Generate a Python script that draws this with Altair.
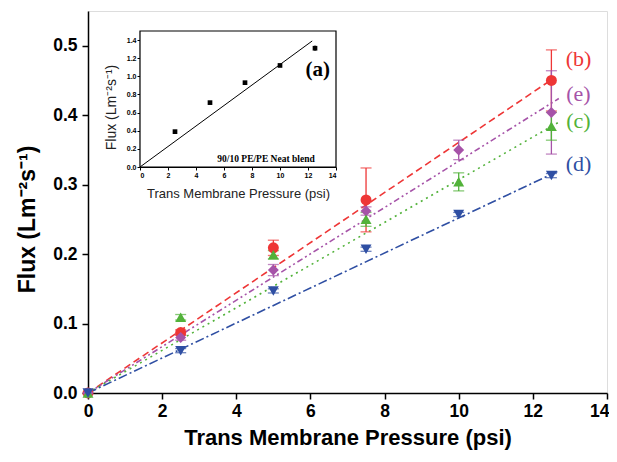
import altair as alt
import pandas as pd

# ---------------- data ----------------
pressure = [0, 2.5, 5, 7.5, 10, 12.5]
series_names = ["b", "e", "c", "d"]
series_labels = ["(b)", "(e)", "(c)", "(d)"]
series_colors = ["#ee3636", "#a653a8", "#52b23a", "#2f4fa3"]
series_shapes = ["circle", "diamond", "triangle-up", "triangle-down"]

flux_b = [0, 0.087, 0.209, 0.278, None, 0.450]
err_b = [0, 0.004, 0.011, 0.046, None, 0.044]
flux_e = [0, 0.080, 0.177, 0.262, 0.350, 0.404]
err_e = [0, 0.004, 0.008, 0.006, 0.014, 0.060]
flux_c = [0, 0.109, 0.199, 0.250, 0.304, 0.384]
err_c = [0, 0.004, 0.006, 0.010, 0.013, 0.020]
flux_d = [0, 0.061, 0.147, 0.207, 0.257, 0.313]
err_d = [0, 0.003, 0.003, 0.003, 0.003, 0.003]

# fitted lines (start / end)
fit_x = {"b": [0, 12.5], "e": [0, 12.7], "c": [0, 12.7], "d": [0, 12.7]}
fit_y = {"b": [0, 0.451], "e": [0, 0.424], "c": [0, 0.390], "d": [0, 0.320]}
fit_dash = {"b": [7, 4], "e": [6, 3, 2, 3, 2, 3], "c": [2, 4], "d": [9, 3, 2, 3]}

label_x = [13.23, 13.23, 13.23, 13.23]
label_y = [0.481, 0.430, 0.391, 0.329]

# inset (a)
inset_x = [2.5, 5, 7.5, 10, 12.5]
inset_y = [0.39, 0.71, 0.93, 1.12, 1.31]
inset_err = [0.01, 0.01, 0.01, 0.01, 0.03]
inset_fit_x = [0, 12.3]
inset_fit_y = [0, 1.39]
inset_domain_x = [0, 14]
inset_domain_y = [0, 1.5]

main_domain_x = [0, 14]
main_domain_y = [0, 0.55]

# ---------------- tables ----------------
fluxes = {"b": flux_b, "e": flux_e, "c": flux_c, "d": flux_d}
errs = {"b": err_b, "e": err_e, "c": err_c, "d": err_d}

pts_rows, err_rows, cap_rows = [], [], []
for s in series_names:
    for x, y, e in zip(pressure, fluxes[s], errs[s]):
        if y is None:
            continue
        pts_rows.append({"x": x, "y": y, "series": s})
        if e and e > 0:
            err_rows.append({"x": x, "lo": y - e, "hi": y + e, "series": s})
            cap_rows.append({"x": x, "y": y - e, "series": s})
            cap_rows.append({"x": x, "y": y + e, "series": s})
pts = pd.DataFrame(pts_rows)
errdf = pd.DataFrame(err_rows)
caps = pd.DataFrame(cap_rows)
labels = pd.DataFrame({"x": label_x, "y": label_y, "series": series_names, "text": series_labels})

inset_pts = pd.DataFrame({"x": inset_x, "y": inset_y})
inset_errdf = pd.DataFrame({"x": inset_x, "lo": [a - b for a, b in zip(inset_y, inset_err)],
                            "hi": [a + b for a, b in zip(inset_y, inset_err)]})
inset_fit = pd.DataFrame({"x": inset_fit_x, "y": inset_fit_y})
inset_frame = pd.DataFrame({"x": [inset_domain_x[0]], "x2": [inset_domain_x[1]],
                            "y": [inset_domain_y[0]], "y2": [inset_domain_y[1]]})
inset_texts = pd.DataFrame({"x": [12.7], "y": [1.07], "text": ["(a)"]})
inset_note = pd.DataFrame({"x": [9.0], "y": [0.085], "text": ["90/10 PE/PE Neat blend"]})

# ---------------- main encodings ----------------
SANS = "Liberation Sans"
SERIF = "Liberation Serif"

X = alt.X("x:Q", scale=alt.Scale(domain=main_domain_x, nice=False, zero=False),
          axis=alt.Axis(values=[0, 2, 4, 6, 8, 10, 12, 14], format="d", grid=False,
                        title="Trans Membrane Pressure (psi)", titleFont=SANS, titleFontSize=22,
                        titleFontWeight="bold", titleColor="black", titlePadding=8,
                        labelFont=SANS, labelFontSize=17.5, labelFontWeight="bold", labelColor="black",
                        labelAlign=alt.expr("datum.value == 14 ? 'right' : 'center'"),
                        labelOffset=alt.expr("datum.value == 14 ? 2 : 0"),
                        labelPadding=3, tickSize=6, tickWidth=1.5, tickColor="black",
                        domainColor="black", domainWidth=1.5, orient="bottom"))
Y = alt.Y("y:Q", scale=alt.Scale(domain=main_domain_y, nice=False, zero=False),
          axis=alt.Axis(values=[0, 0.1, 0.2, 0.3, 0.4, 0.5], format=".1f", grid=False,
                        title="Flux (Lm⁻²s⁻¹)", titleFont=SANS, titleFontSize=23,
                        titleFontWeight="bold", titleColor="black", titlePadding=13,
                        titleY=208,
                        labelFont=SANS, labelFontSize=17.5, labelFontWeight="bold", labelColor="black",
                        labelPadding=5, tickSize=6, tickWidth=1.5, tickColor="black",
                        domainColor="black", domainWidth=1.5, orient="left"))
COLOR = alt.Color("series:N", scale=alt.Scale(domain=series_names, range=series_colors), legend=None)
SHAPE = alt.Shape("series:N", scale=alt.Scale(domain=series_names, range=series_shapes), legend=None)

layers = []
for s, col in zip(series_names, series_colors):
    ldf = pd.DataFrame({"x": fit_x[s], "y": fit_y[s]})
    layers.append(alt.Chart(ldf).mark_line(color=col, strokeWidth=1.6, strokeDash=fit_dash[s])
                  .encode(x=X, y=Y))

layers.append(alt.Chart(errdf).mark_rule(strokeWidth=1.3)
              .encode(x=X, y=alt.Y("lo:Q", scale=alt.Scale(domain=main_domain_y, nice=False, zero=False)),
                      y2="hi:Q", color=COLOR))
layers.append(alt.Chart(caps).mark_tick(orient="horizontal", size=11, thickness=1.3)
              .encode(x=X, y=Y, color=COLOR))
layers.append(alt.Chart(pts).mark_point(filled=True, size=120, opacity=1)
              .encode(x=X, y=Y, color=COLOR, shape=SHAPE))
layers.append(alt.Chart(labels).mark_text(font=SERIF, fontSize=22, align="center", baseline="middle")
              .encode(x=X, y=Y, text="text:N", color=COLOR))

main = alt.layer(*layers)

# ---------------- inset ----------------
IX = alt.X("x:Q", scale=alt.Scale(domain=inset_domain_x, range=[52, 248], nice=False, zero=False),
           axis=alt.Axis(values=[0, 2, 4, 6, 8, 10, 12, 14], format="d", grid=False, orient="bottom",
                         offset=-226, title="Trans Membrane Pressure (psi)", titleFont=SANS,
                         titleFontSize=13, titleFontWeight="normal", titleColor="#222222",
                         titlePadding=9, labelFont=SANS, labelFontSize=7, labelFontWeight="bold",
                         labelColor="black", labelPadding=1, tickSize=3, tickColor="black",
                         domainColor="black", domainWidth=1.2))
IY = alt.Y("y:Q", scale=alt.Scale(domain=inset_domain_y, range=[156, 20], nice=False, zero=False),
           axis=alt.Axis(values=[0, 0.2, 0.4, 0.6, 0.8, 1.0, 1.2, 1.4], format=".1f", grid=False,
                         orient="left", offset=-52, title="Flux (Lm⁻²s⁻¹)", titleFont=SANS,
                         titleFontSize=14, titleFontWeight="normal", titleColor="#222222",
                         titlePadding=8, titleY=96, labelFont=SANS, labelFontSize=7,
                         labelFontWeight="bold", labelColor="black", labelPadding=1, tickSize=3,
                         tickColor="black", domainColor="black", domainWidth=1.2))

inset_layers = [
    alt.Chart(inset_frame).mark_rect(fill="white", stroke="black", strokeWidth=1.2)
    .encode(x=IX, x2="x2:Q", y=alt.Y("y:Q", scale=alt.Scale(domain=inset_domain_y, range=[156, 20],
                                                                nice=False, zero=False)), y2="y2:Q"),
    alt.Chart(inset_fit).mark_line(color="black", strokeWidth=1).encode(x=IX, y=IY),
    alt.Chart(inset_errdf).mark_rule(color="black", strokeWidth=1)
    .encode(x=IX, y=alt.Y("lo:Q", scale=alt.Scale(domain=inset_domain_y, range=[156, 20],
                                                  nice=False, zero=False)), y2="hi:Q"),
    alt.Chart(inset_pts).mark_square(color="black", size=22, opacity=1).encode(x=IX, y=IY),
    alt.Chart(inset_texts).mark_text(font=SERIF, fontSize=21, fontWeight="bold", align="center",
                                     baseline="middle", color="black")
    .encode(x=IX, y=IY, text="text:N"),
    alt.Chart(inset_note).mark_text(font=SERIF, fontSize=9.5, fontWeight="bold", align="center",
                                    baseline="middle", color="black")
    .encode(x=IX, y=IY, text="text:N"),
]
inset = alt.layer(*inset_layers)

chart = (alt.layer(main, inset)
         .resolve_scale(x="independent", y="independent")
         .properties(width=519, height=382, autosize="none",
                     padding={"left": 80, "top": 3, "right": 2, "bottom": 61})
         .configure_view(stroke="black", strokeWidth=1.5)
         .configure(background="white"))

chart.save("out.html", embed_options={"renderer": "svg", "actions": False})
